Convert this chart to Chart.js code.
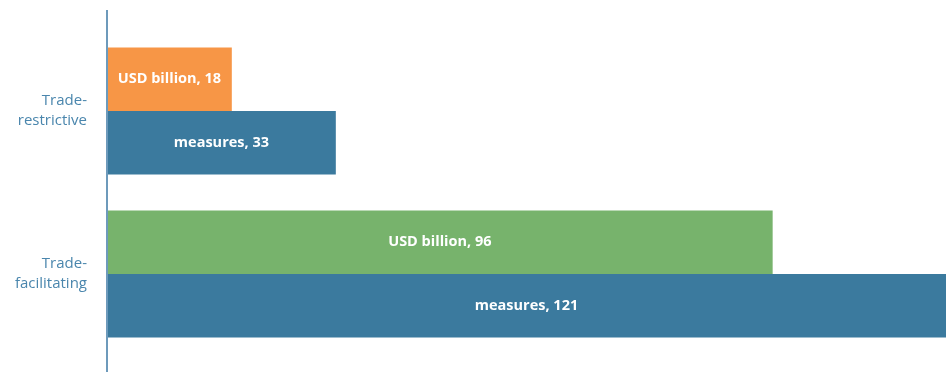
<!DOCTYPE html>
<html>
<head>
<meta charset="utf-8">
<script src="https://cdn.jsdelivr.net/npm/chart.js@4/dist/chart.umd.min.js"></script>
<style>
  html, body { margin:0; padding:0; background:#fff; }
  #wrap { width:952px; height:372px; position:relative; }
</style>
</head>
<body>
<div id="wrap"><canvas id="tradeChart"></canvas></div>
<script>
const categories = [['Trade-', 'restrictive'], ['Trade-', 'facilitating']];
const seriesNames = ['USD billion', 'measures'];
const usdBillion = [18, 96];
const measures   = [33, 121];
const xMax = 121;

const usdColors = ['#f79646', '#77b36c'];
const blue = '#3b7a9e';
const axisColor = '#6d9abb';

// draws "name, value" centred in each bar and the long left axis line
const barLabels = {
  id: 'barLabels',
  afterDatasetsDraw(chart) {
    const ctx = chart.ctx;
    ctx.save();
    ctx.fillStyle = '#ffffff';
    ctx.font = 'bold 14.5px "Open Sans", sans-serif';
    ctx.textAlign = 'center';
    ctx.textBaseline = 'middle';
    chart.data.datasets.forEach((ds, di) => {
      chart.getDatasetMeta(di).data.forEach((bar, i) => {
        const cx = (bar.base + bar.x) / 2;
        ctx.fillText(ds.label + ', ' + ds.data[i], cx, bar.y);
      });
    });
    const x = chart.chartArea.left;
    ctx.strokeStyle = axisColor;
    ctx.lineWidth = 2;
    ctx.beginPath();
    ctx.moveTo(x, 10);
    ctx.lineTo(x, 372);
    ctx.stroke();
    ctx.restore();
  }
};

new Chart(document.getElementById('tradeChart').getContext('2d'), {
  type: 'bar',
  data: {
    labels: categories,
    datasets: [
      { label: seriesNames[0], data: usdBillion, backgroundColor: usdColors },
      { label: seriesNames[1], data: measures, backgroundColor: blue }
    ]
  },
  options: {
    indexAxis: 'y',
    responsive: true, maintainAspectRatio: false, animation: false,
    barPercentage: 1, categoryPercentage: 0.78,
    layout: { padding: { top: 29.5, bottom: 16.5, left: 0, right: 6 } },
    scales: {
      x: { display: false, min: 0, max: xMax },
      y: {
        grid: { display: false }, border: { display: false },
        afterFit(scale) { scale.width = 107; scale.paddingTop = 0; scale.paddingBottom = 0; },
        ticks: {
          color: '#4a86ad', padding: 12,
          font: { family: '"Open Sans", sans-serif', size: 15, lineHeight: 1.35 }
        }
      }
    },
    plugins: { legend: { display: false }, tooltip: { enabled: false } }
  },
  plugins: [barLabels]
});
</script>
</body>
</html>
